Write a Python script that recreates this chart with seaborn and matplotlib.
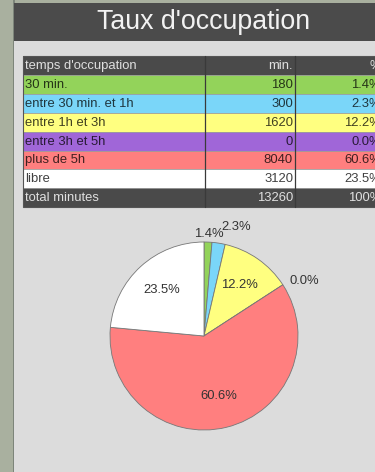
import matplotlib
matplotlib.use("Agg")
import matplotlib.pyplot as plt
from matplotlib.patches import Rectangle
import numpy as np
import seaborn as sns

# Occupation data
categories = ["30 min.", "entre 30 min. et 1h", "entre 1h et 3h",
              "entre 3h et 5h", "plus de 5h", "libre"]
minutes = [180, 300, 1620, 0, 8040, 3120]
percent_labels = ["1.4%", "2.3%", "12.2%", "0.0%", "60.6%", "23.5%"]
total_minutes = 13260
total_label = "100%"
header = ["temps d'occupation", "min.", "%"]
title = "Taux d'occupation"

row_colors = ["#93d35a", "#7ad6f9", "#ffff80", "#a066d8", "#ff7f7f", "#ffffff"]

sns.set_theme(style="white")
plt.rcParams["font.family"] = ["Liberation Sans", "DejaVu Sans"]
palette = sns.color_palette(row_colors)

W, H = 375, 472
fig = plt.figure(figsize=(W / 100, H / 100), dpi=100)
fig.patch.set_facecolor("#a9b09f")

# Full-figure canvas in pixel units for the panel and the table
bg = fig.add_axes([0, 0, 1, 1])
bg.set_xlim(0, W)
bg.set_ylim(H, 0)
bg.axis("off")

panel_l, panel_r = 14, 394
bg.add_patch(Rectangle((panel_l - 1, 0), 1.5, H, color="#7d857a", lw=0))
bg.add_patch(Rectangle((panel_l, 3), panel_r - panel_l, H, color="#dcdcdc", lw=0))
bg.add_patch(Rectangle((panel_l, 3), panel_r - panel_l, 38, color="#4b4b4b", lw=0))
bg.text((panel_l + panel_r) / 2, 22, title, color="#f2f2f2", fontsize=19.3,
        ha="center", va="center")

# Table
col_x = [23, 205, 295, 385]
top, row_h = 56, 18.9
dark = "#4a4a4a"
light_txt = "#e0e0e0"
fs = 9.4

rows = [(header, dark, light_txt)]
for cat, m, p, c in zip(categories, minutes, percent_labels, palette):
    txt = tuple(np.array(c) * 0.25)
    rows.append(([cat, str(m), p], c, txt))
rows.append((["total minutes", str(total_minutes), total_label], dark, light_txt))

for i, (cells, fc, tc) in enumerate(rows):
    y0 = top + i * row_h
    bg.add_patch(Rectangle((col_x[0], y0), col_x[-1] - col_x[0], row_h,
                           facecolor=fc, edgecolor="#9a9a9a", lw=0.5))
    yc = y0 + row_h / 2 + 0.5
    bg.text(col_x[0] + 2, yc, cells[0], color=tc, fontsize=fs,
            ha="left", va="center")
    bg.text(col_x[2] - 2, yc, cells[1], color=tc, fontsize=fs,
            ha="right", va="center")
    bg.text(col_x[3] - 4, yc, cells[2], color=tc, fontsize=fs,
            ha="right", va="center")

for x in col_x[1:3]:
    bg.plot([x, x], [top, top + len(rows) * row_h], color="#3a3a3a", lw=0.9)
bg.add_patch(Rectangle((col_x[0], top), col_x[-1] - col_x[0], len(rows) * row_h,
                       fill=False, edgecolor="#555555", lw=0.8))

# Pie chart
cx, cy, r = 204, 336, 94
ax = fig.add_axes([(cx - r) / W, (H - cy - r) / H, 2 * r / W, 2 * r / H])
ax.set_facecolor("none")
wedges, _ = ax.pie(minutes, colors=palette, startangle=90, counterclock=False,
                   wedgeprops=dict(edgecolor="#777777", linewidth=0.6))
ax.set_xlim(-1, 1)
ax.set_ylim(-1, 1)
ax.set_aspect("equal")
ax.axis("off")

label_dist = [1.09, 1.17, 0.66, 1.08, 0.66, 0.66]
label_ha = ["center", "left", "center", "left", "center", "center"]
for w, lab, d, ha in zip(wedges, percent_labels, label_dist, label_ha):
    ang = np.deg2rad((w.theta1 + w.theta2) / 2)
    ax.text(d * np.cos(ang), d * np.sin(ang), lab, ha=ha, va="center",
            fontsize=9.4, color="#333333", clip_on=False)

fig.savefig("out.png", dpi=100)
